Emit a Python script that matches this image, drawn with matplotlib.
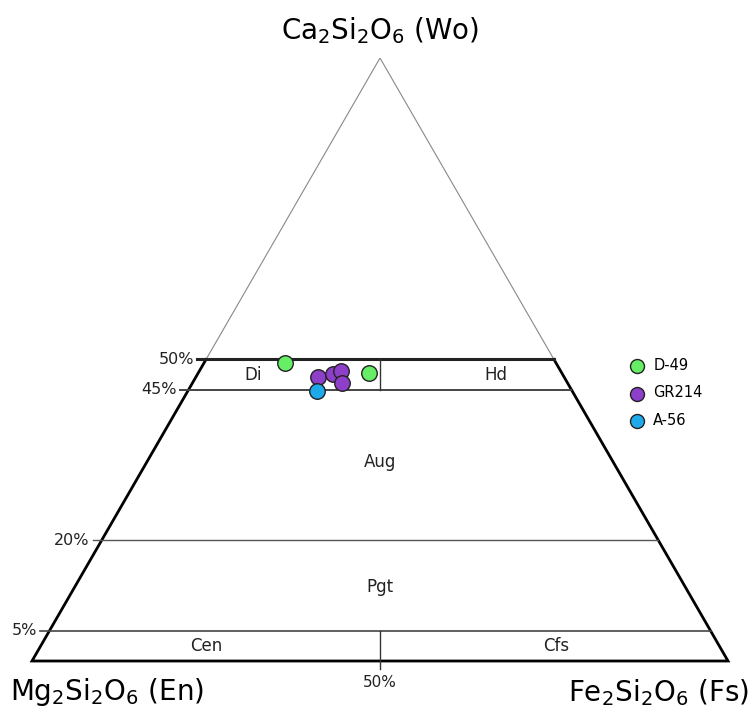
import numpy as np
import matplotlib.pyplot as plt

plt.rcParams["mathtext.default"] = "regular"

# samples: Wo, En, Fs fractions
samples = ["D-49", "GR214", "A-56"]
wo = {
    "D-49": [0.495, 0.477],
    "GR214": [0.4715, 0.4755, 0.481, 0.4615],
    "A-56": [0.448],
}
en = {
    "D-49": [0.389, 0.277],
    "GR214": [0.353, 0.330, 0.3155, 0.3235],
    "A-56": [0.3665],
}
fs = {
    "D-49": [0.116, 0.246],
    "GR214": [0.1755, 0.1945, 0.2035, 0.215],
    "A-56": [0.1855],
}
colors = {"D-49": "#66ee66", "GR214": "#8e3fc9", "A-56": "#1ea9ea"}

wo_lines = [0.5, 0.45, 0.20, 0.05]
wo_labels = ["50%", "45%", "20%", "5%"]
fields = ["Di", "Hd", "Aug", "Pgt", "Cen", "Cfs"]

H = np.sqrt(3) / 2


def tern(wo_, en_, fs_):
    wo_ = np.asarray(wo_, float)
    fs_ = np.asarray(fs_, float)
    tot = wo_ + np.asarray(en_, float) + fs_
    return fs_ / tot + wo_ / tot / 2, wo_ / tot * H


def wo_line(w):
    # endpoints of a constant-Wo line
    x0, y0 = tern(w, 1 - w, 0)
    x1, y1 = tern(w, 0, 1 - w)
    return [x0, x1], [y0, y1]


fig = plt.figure(figsize=(7.5, 7.08), dpi=100)
ax = fig.add_axes([32 / 750, 47 / 708, 696 / 750, 603 / 708])
ax.set_xlim(0, 1)
ax.set_ylim(0, H)
ax.axis("off")

# upper part of the triangle (thin)
ax.plot([0.25, 0.5, 0.75], [0.5 * H, H, 0.5 * H], color="#888888", lw=0.8)
# lower trapezoid (thick)
ax.plot([0.25, 0, 1, 0.75], [0.5 * H, 0, 0, 0.5 * H], color="black", lw=2, clip_on=False,
        solid_joinstyle="miter")

widths = [2.2, 1.4, 1.0, 1.2]
cols = ["#222222", "#444444", "#555555", "#444444"]
for w, lw, c in zip(wo_lines, widths, cols):
    xs, ys = wo_line(w)
    ax.plot([xs[0] - 0.013, xs[1]], ys, color=c, lw=lw, clip_on=False)

# vertical separators at En = Fs
ax.plot([0.5, 0.5], [0.45 * H, 0.5 * H], color="#333333", lw=1.0)
ax.plot([0.5, 0.5], [-0.012, 0.05 * H], color="#333333", lw=1.0, clip_on=False)

# percent labels
for w, lab in zip(wo_lines, wo_labels):
    xs, ys = wo_line(w)
    ax.text(xs[0] - 0.017, ys[0], lab, ha="right", va="center", fontsize=11.5, color="#222222")
ax.text(0.5, -0.031, "50%", ha="center", va="center", fontsize=11, color="#222222")

# field names
fx = [0.317, 0.667, 0.5, 0.5, 0.25, 0.753]
fy = [0.475 * H, 0.475 * H, 0.33 * H, 0.122 * H, 0.025 * H, 0.025 * H]
for name, x, y in zip(fields, fx, fy):
    ax.text(x, y, name, ha="center", va="center", fontsize=12, color="#222222")

# end members
ax.text(0.5, H + 0.04, r"Ca$_2$Si$_2$O$_6$ (Wo)", ha="center", va="center", fontsize=20)
ax.text(-0.032, -0.045, r"Mg$_2$Si$_2$O$_6$ (En)", ha="left", va="center", fontsize=20)
ax.text(1.03, -0.045, r"Fe$_2$Si$_2$O$_6$ (Fs)", ha="right", va="center", fontsize=20)

for s in samples:
    x, y = tern(wo[s], en[s], fs[s])
    ax.scatter(x, y, s=125, color=colors[s], edgecolor="#222222", lw=1, zorder=5,
               clip_on=False, label=s)

ax.legend(loc="upper left", bbox_to_anchor=(0.859, 0.5025), frameon=False,
          fontsize=10.5, borderpad=0, borderaxespad=0, handlelength=1.0,
          handletextpad=0.6, labelspacing=0.85, markerscale=0.9)

plt.savefig("out.png", dpi=100)
